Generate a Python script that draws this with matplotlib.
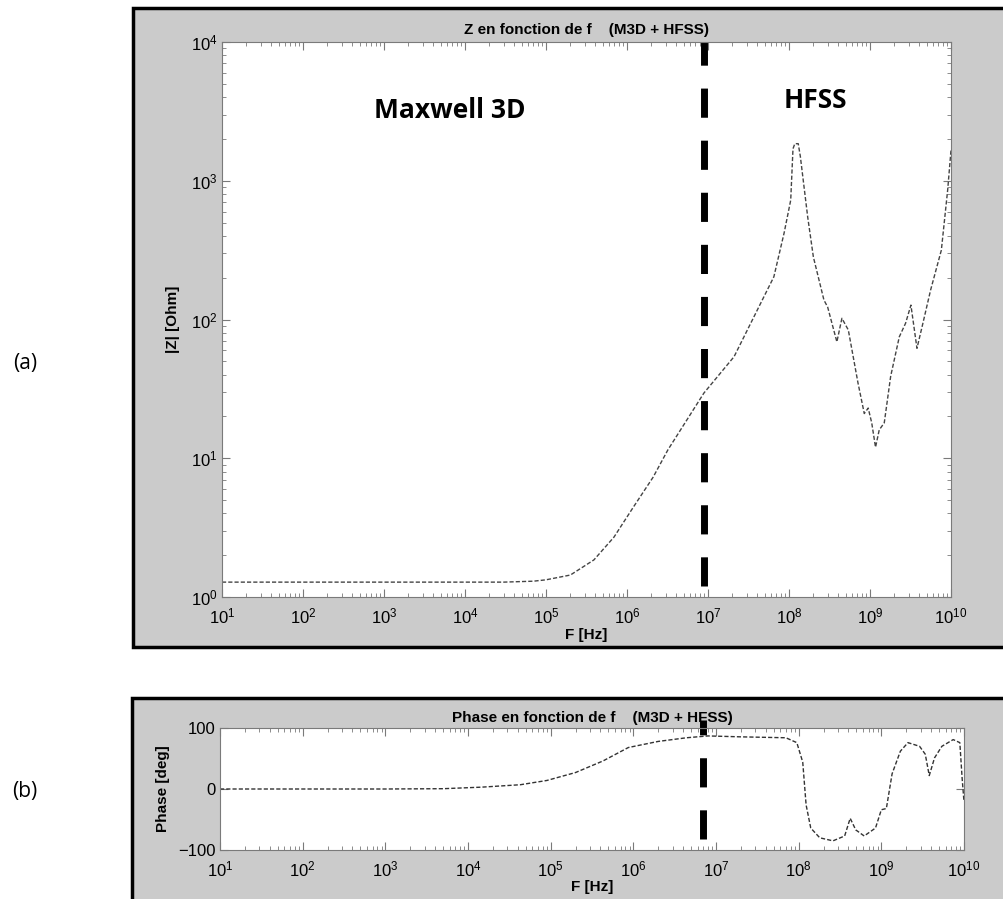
import math
import matplotlib
matplotlib.use('Agg')
import matplotlib.pyplot as plt
from matplotlib.patches import Rectangle
from matplotlib.ticker import FixedLocator, FuncFormatter, LogLocator, NullFormatter

plt.rcParams['font.family'] = ['Liberation Sans Narrow', 'Liberation Sans', 'DejaVu Sans']

# |Z| vs frequency
z_freq = [1e1, 1e3, 1e4, 3e4, 7e4, 1e5, 2e5, 3.9e5, 6.9e5, 1.2e6, 2.1e6, 3.2e6, 8.9e6,
          2.1e7, 4.5e7, 6.5e7, 8.7e7, 1.05e8, 1.12e8, 1.18e8, 1.3e8, 1.38e8, 1.7e8,
          2.0e8, 2.7e8, 3.0e8, 3.9e8, 4.5e8, 5.4e8, 7.1e8, 8.5e8, 9.5e8, 1.05e9,
          1.17e9, 1.3e9, 1.5e9, 1.8e9, 2.3e9, 2.75e9, 3.2e9, 3.8e9, 4.5e9, 5.6e9,
          7.6e9, 9.1e9, 1e10]
z_mag = [1.28, 1.28, 1.28, 1.28, 1.30, 1.33, 1.44, 1.85, 2.7, 4.45, 7.3, 11.5, 29.5,
         54, 132, 203, 420, 725, 1700, 1850, 1850, 1500, 550,
         282, 138, 123, 69, 102, 84, 35, 21, 23, 18,
         12, 16, 18, 39, 75, 94, 127, 62, 94, 163,
         316, 860, 1660]

# phase vs frequency
phase_freq = [1e1, 1e3, 5e3, 1.45e4, 4.3e4, 9e4, 2e5, 4.3e5, 8.7e5, 2e6, 4.4e6, 8e6,
              2e7, 7e7, 9.5e7, 1.12e8, 1.23e8, 1.4e8, 1.8e8, 2.6e8, 3.6e8, 4.2e8,
              4.9e8, 6.2e8, 8.5e8, 1e9, 1.15e9, 1.35e9, 1.7e9, 2.1e9, 2.9e9, 3.4e9,
              3.8e9, 4.4e9, 5.4e9, 7.4e9, 8.9e9, 9.5e9, 1e10]
phase_deg = [0, 0, 0.5, 3, 7, 14, 27, 46, 68, 78, 84, 87,
             85.5, 84, 76, 44, -26, -64, -80, -85, -77, -48,
             -67, -77, -64, -34, -32, 25, 62, 76, 70, 57,
             22, 51, 70, 81, 76, 17, -21]

# M3D / HFSS boundary markers
split_z = 9e6
split_phase = 7e6
decades = [1e1, 1e2, 1e3, 1e4, 1e5, 1e6, 1e7, 1e8, 1e9, 1e10]

W, H = 1004, 899
fig = plt.figure(figsize=(W / 100, H / 100), dpi=100)


def px_rect(x0, y0, x1, y1):
    return [x0 / W, 1 - y1 / H, (x1 - x0) / W, (y1 - y0) / H]


def gray_box(x0, y0, x1, y1):
    r = px_rect(x0, y0, x1, y1)
    fig.add_artist(Rectangle((r[0], r[1]), r[2], r[3], transform=fig.transFigure,
                             facecolor='#cbcbcb', edgecolor='black', lw=2.5, zorder=0))


def matlab_style(ax):
    ax.set_facecolor('white')
    for s in ax.spines.values():
        s.set_color('#7a7a7a')
        s.set_linewidth(0.8)
    ax.tick_params(which='both', direction='in', top=True, right=True,
                   color='#7a7a7a', labelsize=12)
    ax.tick_params(which='major', length=6)
    ax.tick_params(which='minor', length=3)
    ax.tick_params(axis='x', pad=7)
    ax.tick_params(axis='y', pad=3)


pow_fmt = FuncFormatter(lambda v, p: r'$\mathregular{10^{%d}}$' % round(math.log10(v)))

gray_box(133, 8, 1010, 647)
gray_box(132, 698, 1010, 910)

# (a) impedance magnitude
ax1 = fig.add_axes(px_rect(222, 42, 951, 597))
matlab_style(ax1)
ax1.plot(z_freq, z_mag, color='#444444', lw=1.0, ls=(0, (3, 1.5)))
ax1.set_xscale('log')
ax1.set_yscale('log')
ax1.set_xlim(1e1, 1e10)
ax1.set_ylim(1, 1e4)
ax1.xaxis.set_major_locator(FixedLocator(decades))
ax1.xaxis.set_major_formatter(pow_fmt)
ax1.yaxis.set_major_locator(FixedLocator([1, 10, 100, 1000, 10000]))
ax1.yaxis.set_major_formatter(pow_fmt)
ax1.xaxis.set_minor_locator(LogLocator(base=10, subs=range(2, 10), numticks=20))
ax1.yaxis.set_minor_locator(LogLocator(base=10, subs=range(2, 10), numticks=20))
ax1.xaxis.set_minor_formatter(NullFormatter())
ax1.yaxis.set_minor_formatter(NullFormatter())
ax1.plot([split_z, split_z], [1.2, 1e4], color='black', lw=5, ls=(0, (4.2, 3.3)), clip_on=False)
ax1.set_title('Z en fonction de f    (M3D + HFSS)', fontsize=11, fontweight='bold', pad=6)
ax1.set_xlabel('F [Hz]', fontsize=11, fontweight='bold', labelpad=1)
ax1.set_ylabel('|Z| [Ohm]', fontsize=11, fontweight='bold', labelpad=8)
ax1.text(450 / W, 1 - 110 / H, 'Maxwell 3D', transform=fig.transFigure, ha='center', va='center',
         fontsize=19, fontweight='bold', family=['Open Sans', 'DejaVu Sans'])
ax1.text(815 / W, 1 - 100 / H, 'HFSS', transform=fig.transFigure, ha='center', va='center',
         fontsize=19, fontweight='bold', family=['Open Sans', 'DejaVu Sans'])

# (b) phase
ax2 = fig.add_axes(px_rect(220, 728, 964, 850))
matlab_style(ax2)
ax2.plot(phase_freq, phase_deg, color='#333333', lw=1.0, ls=(0, (3, 1.5)))
ax2.set_xscale('log')
ax2.set_xlim(1e1, 1e10)
ax2.set_ylim(-100, 100)
ax2.xaxis.set_major_locator(FixedLocator(decades))
ax2.xaxis.set_major_formatter(pow_fmt)
ax2.xaxis.set_minor_locator(LogLocator(base=10, subs=range(2, 10), numticks=20))
ax2.xaxis.set_minor_formatter(NullFormatter())
ax2.set_yticks([-100, 0, 100])
ax2.plot([split_phase, split_phase], [-82, 113], color='black', lw=5, ls=(0, (4.2, 3.3)), clip_on=False)
ax2.set_title('Phase en fonction de f    (M3D + HFSS)', fontsize=11, fontweight='bold', pad=4)
ax2.set_xlabel('F [Hz]', fontsize=11, fontweight='bold', labelpad=0)
ax2.set_ylabel('Phase [deg]', fontsize=11, fontweight='bold', labelpad=6,
               family=['Liberation Sans', 'DejaVu Sans'])

fig.text(25 / W, 1 - 364 / H, '(a)', fontsize=15, ha='center', va='center',
         family=['Open Sans', 'DejaVu Sans'])
fig.text(25 / W, 1 - 792 / H, '(b)', fontsize=15, ha='center', va='center',
         family=['Open Sans', 'DejaVu Sans'])

fig.savefig('out.png', dpi=100)
